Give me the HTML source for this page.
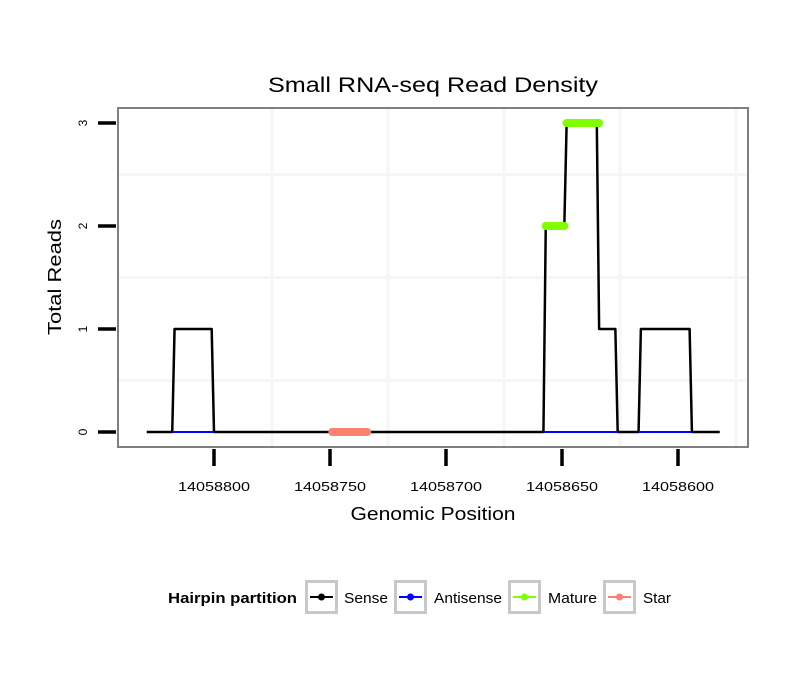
<!DOCTYPE html>
<html><head><meta charset="utf-8"><style>
body{margin:0;background:#fff;font-family:"Liberation Sans",sans-serif}
svg{display:block}
</style></head><body>
<svg id="c" width="810" height="690" xmlns="http://www.w3.org/2000/svg" font-family="Liberation Sans, sans-serif"></svg>
<script>
const xTicks=[14058800,14058750,14058700,14058650,14058600];
const yTicks=[0,1,2,3];
const senseX=[14058829,14058818,14058817,14058801,14058800,14058658,14058657,14058649,14058648,14058635,14058634,14058627,14058626,14058617,14058616,14058595,14058594,14058582];
const senseY=[0,0,1,1,0,0,2,2,3,3,1,1,0,0,1,1,0,0];
const antisenseSegs=[[14058818,14058800],[14058658,14058626],[14058617,14058594]];
const matureStart=[14058657,14058648];
const matureEnd=[14058649,14058634];
const matureVal=[2,3];
const starStart=[14058749];
const starEnd=[14058734];
const starVal=[0];

const NS="http://www.w3.org/2000/svg";
const svg=document.getElementById('c');
const X0=118,X1=748,Y0=108,Y1=447;
function sx(v){return 214+(14058800-v)*2.32;}
function sy(v){return 432-v*103;}
function el(t,a,p){const e=document.createElementNS(NS,t);for(const k in a)e.setAttribute(k,a[k]);(p||svg).appendChild(e);return e;}

const bg=el('rect',{x:X0,y:Y0,width:X1-X0,height:Y1-Y0,fill:'#fff'});


for(let i=0;i<xTicks.length;i++){
  const v=xTicks[0]-25-50*i;
  const g=el('line',{x1:sx(v),x2:sx(v),y1:Y0,y2:Y1,stroke:'#f6f6f6','stroke-width':3});
  
  
}
for(let v=0.5;v<3.2;v+=1){const g=el('line',{x1:X0,x2:X1,y1:sy(v),y2:sy(v),stroke:'#f6f6f6','stroke-width':3});
  
  }
let d='';senseX.forEach((v,i)=>{d+=(i?'L':'M')+sx(v)+','+sy(senseY[i]);});
const sl=el('path',{d:d,fill:'none',stroke:'#000','stroke-width':2.5,'stroke-linejoin':'round'});


antisenseSegs.forEach(s=>{const l=el('line',{x1:sx(s[0]),x2:sx(s[1]),y1:sy(0),y2:sy(0),stroke:'#0000ff','stroke-width':2});
  
  });
matureStart.forEach((v,i)=>{const l=el('line',{x1:sx(v),x2:sx(matureEnd[i]),y1:sy(matureVal[i]),y2:sy(matureVal[i]),stroke:'#7fff00','stroke-width':8,'stroke-linecap':'round'});
  
  });
starStart.forEach((v,i)=>{const l=el('line',{x1:sx(v),x2:sx(starEnd[i]),y1:sy(starVal[i]),y2:sy(starVal[i]),stroke:'#fa8072','stroke-width':8,'stroke-linecap':'round'});
  
  });
const br=el('rect',{x:X0,y:Y0,width:X1-X0,height:Y1-Y0,fill:'none',stroke:'#7f7f7f','stroke-width':2});


yTicks.forEach(v=>{
  const t=el('line',{x1:98,x2:116,y1:sy(v),y2:sy(v),stroke:'#000','stroke-width':3.5});
  
  
  const tx=el('text',{x:0,y:0,'font-size':12,'text-anchor':'middle',transform:`translate(87,${sy(v)}) rotate(-90)`});
  tx.textContent=v;
  
  
});
xTicks.forEach(v=>{
  const t=el('line',{x1:sx(v),x2:sx(v),y1:449,y2:466,stroke:'#000','stroke-width':3.5});
  
  
  const tx=el('text',{x:sx(v),y:491,'font-size':13,'text-anchor':'middle',textLength:72,lengthAdjust:'spacingAndGlyphs'});
  tx.textContent=v;
  
  
});
</script>
<svg style="position:absolute;left:0;top:0" width="810" height="690" xmlns="http://www.w3.org/2000/svg" font-family="Liberation Sans, sans-serif">
<text x="433" y="92" font-size="21" text-anchor="middle" textLength="330" lengthAdjust="spacingAndGlyphs">Small RNA-seq Read Density</text>
<text x="433" y="520" font-size="18" text-anchor="middle" textLength="165" lengthAdjust="spacingAndGlyphs">Genomic Position</text>
<text transform="translate(61,277) rotate(-90)" font-size="18" text-anchor="middle" textLength="116" lengthAdjust="spacingAndGlyphs">Total Reads</text>
<g font-size="15">
<text x="168" y="603" font-weight="bold" textLength="129" lengthAdjust="spacingAndGlyphs">Hairpin partition</text>
<g>
<rect x="306.5" y="581.5" width="30" height="31" fill="#fff" stroke="#c8c8c8" stroke-width="3"/>
<line x1="310" x2="333" y1="597" y2="597" stroke="#000" stroke-width="2"/><circle cx="321.5" cy="597" r="3.5" fill="#000"/>
<text x="344" y="603" textLength="44" lengthAdjust="spacingAndGlyphs">Sense</text></g>
<g>
<rect x="395.5" y="581.5" width="30" height="31" fill="#fff" stroke="#c8c8c8" stroke-width="3"/>
<line x1="399" x2="422" y1="597" y2="597" stroke="#00f" stroke-width="2"/><circle cx="410.5" cy="597" r="3.5" fill="#00f"/>
<text x="434" y="603" textLength="68" lengthAdjust="spacingAndGlyphs">Antisense</text></g>
<g>
<rect x="509.5" y="581.5" width="30" height="31" fill="#fff" stroke="#c8c8c8" stroke-width="3"/>
<line x1="513" x2="536" y1="597" y2="597" stroke="#7fff00" stroke-width="2"/><circle cx="524.5" cy="597" r="3.5" fill="#7fff00"/>
<text x="548" y="603" textLength="49" lengthAdjust="spacingAndGlyphs">Mature</text></g>
<g>
<rect x="604.5" y="581.5" width="30" height="31" fill="#fff" stroke="#c8c8c8" stroke-width="3"/>
<line x1="608" x2="631" y1="597" y2="597" stroke="#fa8072" stroke-width="2"/><circle cx="619.5" cy="597" r="3.5" fill="#fa8072"/>
<text x="643" y="603" textLength="28" lengthAdjust="spacingAndGlyphs">Star</text></g>
</g>
</svg>
</body></html>
